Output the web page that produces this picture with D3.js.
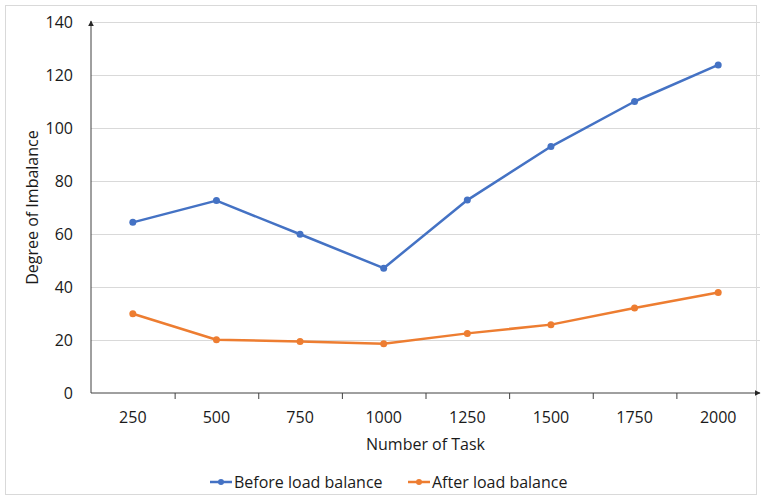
<!DOCTYPE html>
<html>
<head>
<meta charset="utf-8">
<script src="https://cdn.jsdelivr.net/npm/d3@7"></script>
<style>
  body { margin: 0; background: #fff; }
  text { font-family: "Open Sans", sans-serif; fill: #404040; }
</style>
</head>
<body>
<svg id="chart" width="762" height="499"></svg>
<script>
// Chart data
const tasks = ["250", "500", "750", "1000", "1250", "1500", "1750", "2000"];
const beforeBalance = [64.4, 72.6, 59.9, 47.1, 72.8, 93.0, 110.0, 123.8];
const afterBalance = [29.9, 20.1, 19.4, 18.6, 22.5, 25.8, 32.1, 37.9];
const yTicks = [0, 20, 40, 60, 80, 100, 120, 140];

const seriesNames = ["Before load balance", "After load balance"];
const seriesColors = ["#4472C4", "#ED7D31"];

// Plot area
const plotLeft = 91, plotRight = 760, plotTop = 22, plotBottom = 393;

const svg = d3.select("#chart");

// outer frame
svg.append("rect")
    .attr("x", 5.5).attr("y", 5.5)
    .attr("width", 751).attr("height", 489)
    .attr("fill", "none")
    .attr("stroke", "#d9d9d9");

// arrow markers for the axes
const defs = svg.append("defs");
defs.append("marker")
    .attr("id", "arrow")
    .attr("viewBox", "0 0 10 10")
    .attr("refX", 9).attr("refY", 5)
    .attr("markerWidth", 6).attr("markerHeight", 6)
    .attr("markerUnits", "userSpaceOnUse")
    .attr("orient", "auto")
    .append("path")
    .attr("d", "M0,0 L10,5 L0,10 z")
    .attr("fill", "#262626");

// Scales
const x = d3.scaleBand()
    .domain(tasks)
    .range([plotLeft, plotRight]);

const xEdges = d3.scaleLinear()
    .domain([0, tasks.length])
    .range([plotLeft, plotRight]);

const y = d3.scaleLinear()
    .domain([0, 140])
    .range([plotBottom, plotTop]);

// Gridlines
svg.append("g")
    .attr("transform", `translate(${plotLeft},0)`)
    .call(d3.axisLeft(y).tickValues(yTicks.slice(1)).tickSize(-(plotRight - plotLeft)).tickFormat(""))
    .call(g => g.select(".domain").remove())
    .call(g => g.selectAll("line").attr("stroke", "#d9d9d9").attr("stroke-width", 1));

// Y tick labels
svg.append("g")
    .attr("transform", `translate(${plotLeft},0)`)
    .call(d3.axisLeft(y).tickValues(yTicks).tickSize(0).tickPadding(18))
    .call(g => g.select(".domain").remove())
    .call(g => g.selectAll("text")
        .style("font-size", "16px")
        .style("fill", "#1a1a1a")
        .style("font-family", "'Open Sans', sans-serif"));

// X tick marks between categories
svg.append("g")
    .attr("transform", `translate(0,${plotBottom})`)
    .call(d3.axisBottom(xEdges).tickValues(d3.range(1, tasks.length)).tickSize(6).tickFormat(""))
    .call(g => g.select(".domain").remove())
    .call(g => g.selectAll("line").attr("stroke", "#404040"));

// X tick labels
svg.append("g")
    .attr("transform", `translate(0,${plotBottom})`)
    .call(d3.axisBottom(x).tickSize(0).tickPadding(19))
    .call(g => g.select(".domain").remove())
    .call(g => g.selectAll("text")
        .style("font-size", "16px")
        .style("fill", "#1a1a1a")
        .style("font-family", "'Open Sans', sans-serif"));

// Axis lines with arrows
svg.append("line")
    .attr("x1", plotLeft).attr("y1", plotBottom)
    .attr("x2", plotRight).attr("y2", plotBottom)
    .attr("stroke", "#404040")
    .attr("stroke-width", 1)
    .attr("marker-end", "url(#arrow)");

svg.append("line")
    .attr("x1", plotLeft).attr("y1", plotBottom)
    .attr("x2", plotLeft).attr("y2", plotTop - 1)
    .attr("stroke", "#404040")
    .attr("stroke-width", 1)
    .attr("marker-end", "url(#arrow)");

// Lines and markers
const allSeries = [beforeBalance, afterBalance];
const line = d3.line()
    .x((d, i) => x(tasks[i]) + x.bandwidth() / 2)
    .y(d => y(d));

allSeries.forEach((values, s) => {
    svg.append("path")
        .datum(values)
        .attr("d", line)
        .attr("fill", "none")
        .attr("stroke", seriesColors[s])
        .attr("stroke-width", 2.5)
        .attr("stroke-linejoin", "round");

    svg.selectAll(".dot" + s)
        .data(values)
        .enter()
        .append("circle")
        .attr("cx", (d, i) => x(tasks[i]) + x.bandwidth() / 2)
        .attr("cy", d => y(d))
        .attr("r", 3.5)
        .attr("fill", seriesColors[s]);
});

// Axis titles
svg.append("text")
    .attr("x", (plotLeft + plotRight) / 2)
    .attr("y", 450)
    .attr("text-anchor", "middle")
    .style("font-size", "16px")
    .style("fill", "#1a1a1a")
    .text("Number of Task");

svg.append("text")
    .attr("transform", `translate(38,${(plotTop + plotBottom) / 2}) rotate(-90)`)
    .attr("text-anchor", "middle")
    .style("font-size", "16px")
    .style("fill", "#1a1a1a")
    .text("Degree of Imbalance");

// Legend
const legendX = [210, 408];
const legendY = 482;
const legendItems = svg.selectAll(".legend-item")
    .data(seriesNames)
    .enter()
    .append("g")
    .attr("class", "legend-item")
    .attr("transform", (d, i) => `translate(${legendX[i]},${legendY})`);

legendItems.append("line")
    .attr("x1", 0).attr("x2", 22)
    .attr("y1", 0).attr("y2", 0)
    .attr("stroke", (d, i) => seriesColors[i])
    .attr("stroke-width", 2.5);

legendItems.append("circle")
    .attr("cx", 11).attr("cy", 0).attr("r", 3)
    .attr("fill", (d, i) => seriesColors[i]);

legendItems.append("text")
    .attr("x", 24)
    .attr("y", 6)
    .style("font-size", "16px")
    .style("fill", "#1a1a1a")
    .text(d => d);
</script>
</body>
</html>
